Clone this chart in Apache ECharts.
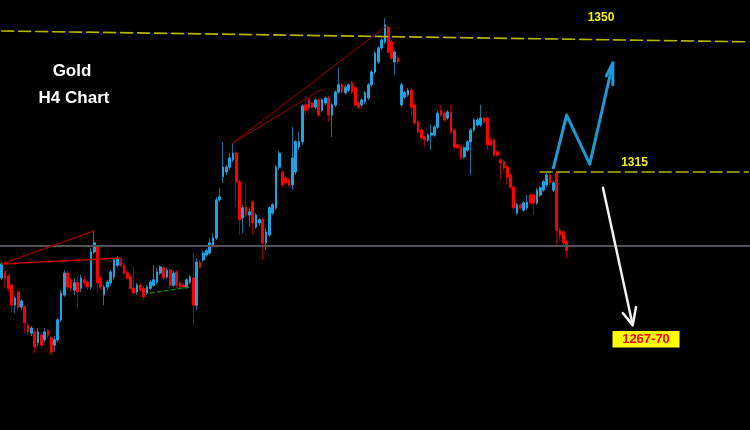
<!DOCTYPE html>
<html><head><meta charset="utf-8">
<script src="https://cdn.jsdelivr.net/npm/echarts@6/dist/echarts.min.js"></script>
<style>html,body{margin:0;padding:0;background:#000}#c{width:750px;height:430px}</style>
</head><body><div id="c"></div>
<script>
// ---- candle values (H4 Gold) ----
const opens = [
1286.9,1288.5,1287.4,1285.0,1279.7,1283.2,1279.2,1279.2,1274.4,1272.3,
1272.6,1269.7,1271.8,1270.5,1272.9,1271.0,1269.1,1270.5,1275.8,1282.4,
1288.2,1286.4,1283.7,1285.8,1284.2,1286.4,1285.8,1284.5,1293.8,1295.1,
1286.9,1282.4,1284.5,1285.6,1287.2,1290.3,1291.7,1290.3,1288.2,1287.2,
1284.2,1283.2,1285.0,1284.2,1282.9,1284.2,1285.0,1285.8,1288.2,1289.6,
1287.2,1289.0,1285.0,1288.5,1285.6,1285.0,1284.5,1285.8,1286.9,1279.7,
1291.1,1291.7,1293.0,1293.5,1295.6,1297.5,1307.6,1313.7,1315.0,1316.3,
1318.2,1320.0,1312.4,1302.8,1305.7,1303.6,1307.0,1300.4,1301.5,1302.3,
1296.2,1298.3,1304.1,1305.5,1316.3,1315.0,1313.4,1312.9,1311.6,1315.0,
1321.6,1323.0,1332.8,1334.1,1333.3,1332.2,1334.1,1331.4,1333.3,1334.6,
1330.1,1332.8,1336.2,1338.1,1336.0,1336.7,1338.6,1337.3,1333.3,1332.8,
1333.6,1334.6,1338.1,1341.5,1344.2,1347.9,1349.5,1353.4,1349.5,1344.2,
1345.2,1332.8,1334.9,1335.4,1336.7,1332.8,1328.3,1326.1,1324.3,1323.5,
1324.8,1324.8,1326.9,1331.4,1330.6,1329.3,1330.9,1326.1,1322.2,1321.6,
1319.0,1320.8,1323.0,1326.1,1327.5,1327.5,1329.3,1329.3,1323.5,1323.5,
1320.3,1318.2,1317.7,1316.3,1314.2,1311.0,1304.1,1306.3,1304.9,1305.5,
1308.9,1308.9,1306.8,1308.9,1310.2,1311.6,1314.2,1310.2,1314.7,1299.6,
1299.1,1296.5];
const closes = [
1290.6,1286.9,1284.2,1279.7,1281.6,1279.2,1280.8,1275.0,1272.6,1273.6,
1268.6,1272.6,1269.1,1272.6,1271.8,1267.3,1270.5,1275.8,1282.9,1288.2,
1284.5,1284.2,1285.6,1283.2,1286.9,1285.6,1284.5,1293.8,1296.2,1285.6,
1284.5,1284.5,1285.8,1288.5,1291.7,1292.2,1290.3,1288.2,1286.9,1284.2,
1282.9,1285.0,1283.7,1281.9,1284.5,1285.8,1286.4,1288.5,1289.8,1286.9,
1289.0,1285.0,1288.2,1285.0,1284.5,1284.5,1286.4,1287.2,1279.7,1291.1,
1289.8,1293.5,1294.1,1296.2,1297.5,1307.6,1308.4,1316.3,1316.3,1318.7,
1320.0,1312.4,1302.3,1305.5,1303.6,1304.4,1301.5,1303.6,1302.3,1296.2,
1299.1,1305.5,1306.3,1316.3,1320.0,1311.6,1312.1,1311.6,1318.7,1323.0,
1323.0,1332.5,1331.4,1332.0,1332.2,1334.1,1330.1,1334.1,1334.6,1330.1,
1332.8,1336.2,1338.1,1336.2,1337.5,1338.1,1336.2,1332.8,1332.2,1334.1,
1336.0,1338.1,1341.5,1346.5,1347.9,1350.0,1354.0,1346.8,1345.2,1346.8,
1344.2,1338.1,1336.0,1336.7,1332.2,1328.0,1325.6,1324.0,1323.5,1324.8,
1325.3,1326.9,1330.6,1330.1,1328.8,1330.9,1325.6,1321.6,1321.4,1318.7,
1321.4,1323.0,1326.1,1328.8,1328.8,1329.3,1328.3,1322.2,1322.2,1319.5,
1319.5,1317.4,1316.1,1313.7,1311.0,1305.5,1306.3,1305.5,1306.8,1307.0,
1306.8,1306.8,1310.2,1310.8,1312.4,1314.2,1312.1,1312.1,1299.6,1298.3,
1296.2,1294.3];
const lows = [
1286.4,1284.2,1283.2,1277.9,1277.6,1278.4,1278.4,1272.3,1271.8,1271.5,
1267.0,1268.9,1268.3,1269.9,1271.0,1266.5,1267.3,1269.9,1275.2,1281.9,
1283.7,1283.2,1282.4,1279.2,1283.2,1284.8,1283.7,1283.7,1293.3,1282.9,
1283.7,1279.7,1283.7,1284.8,1286.4,1289.8,1289.8,1287.7,1286.4,1283.7,
1282.4,1282.4,1283.2,1281.1,1282.4,1283.7,1284.5,1285.3,1287.7,1286.4,
1286.6,1284.2,1284.5,1284.2,1284.0,1284.0,1284.0,1285.3,1274.4,1278.4,
1289.3,1291.1,1292.5,1293.0,1295.1,1297.0,1307.0,1312.1,1314.2,1315.5,
1317.7,1305.7,1298.3,1298.8,1303.1,1300.4,1298.3,1299.9,1300.7,1291.7,
1294.3,1297.8,1303.6,1304.9,1315.5,1311.0,1311.6,1311.0,1310.2,1314.2,
1320.8,1322.2,1330.1,1331.4,1331.7,1331.7,1329.6,1330.9,1332.8,1328.3,
1324.3,1332.2,1335.7,1335.7,1335.4,1336.2,1335.7,1332.2,1331.7,1332.2,
1333.0,1334.1,1337.5,1341.0,1343.6,1347.3,1348.9,1346.3,1344.7,1340.7,
1343.6,1332.2,1334.4,1334.9,1329.6,1327.5,1325.1,1323.5,1321.6,1323.0,
1320.8,1324.3,1326.4,1329.6,1328.3,1328.8,1325.1,1321.1,1320.8,1318.2,
1318.4,1320.3,1314.2,1325.6,1326.9,1326.9,1327.7,1320.8,1321.6,1319.0,
1319.0,1312.9,1315.5,1311.6,1310.5,1304.9,1303.6,1304.9,1304.4,1304.9,
1306.3,1303.6,1306.3,1308.4,1309.7,1311.0,1311.6,1309.7,1295.1,1297.0,
1295.6,1292.2];
const highs = [
1291.1,1289.0,1288.0,1285.6,1282.1,1283.7,1281.3,1279.7,1275.2,1274.2,
1273.1,1273.6,1272.3,1273.6,1273.4,1271.5,1271.5,1276.3,1283.7,1289.0,
1288.8,1286.9,1286.9,1287.4,1287.7,1287.4,1286.4,1294.9,1299.6,1295.6,
1287.4,1285.0,1286.4,1289.0,1292.2,1292.7,1292.2,1290.9,1289.0,1287.7,
1290.1,1285.6,1285.6,1284.8,1285.0,1286.4,1290.3,1289.6,1290.3,1290.1,
1289.6,1289.6,1288.8,1289.0,1286.1,1285.6,1286.9,1287.7,1293.5,1292.2,
1291.7,1294.1,1294.6,1297.5,1298.8,1308.4,1310.8,1323.0,1316.9,1320.0,
1322.7,1320.6,1312.9,1306.3,1312.1,1305.5,1307.6,1304.1,1302.8,1302.8,
1300.2,1306.0,1306.8,1316.9,1320.6,1315.5,1313.9,1313.4,1326.9,1323.5,
1325.6,1333.0,1335.2,1334.6,1333.8,1334.6,1334.6,1334.6,1335.2,1335.2,
1333.3,1336.7,1342.6,1338.6,1338.1,1338.6,1339.1,1337.8,1333.8,1334.6,
1336.5,1338.6,1342.0,1347.1,1348.4,1350.5,1355.8,1354.0,1350.0,1347.3,
1345.8,1338.6,1336.5,1337.3,1337.3,1333.3,1328.8,1326.7,1324.8,1325.3,
1327.5,1327.5,1331.2,1332.8,1331.2,1331.4,1332.8,1326.7,1322.7,1322.2,
1321.9,1323.5,1326.7,1329.3,1329.3,1332.8,1329.8,1329.8,1324.0,1324.0,
1320.8,1318.7,1318.2,1316.9,1314.7,1311.6,1306.8,1306.8,1307.3,1308.9,
1309.4,1309.4,1310.8,1311.3,1312.9,1314.7,1314.7,1312.6,1315.3,1300.2,
1299.6,1297.0];

// ---- levels & annotation paths ([bar index, price]) ----
const pivotLevel = 1295.4;
const level1350 = [[0, 1352.4], [226, 1349.5]];
const level1315 = [[163, 1315.0], [226, 1315.0]];
const trendLeftUpper = [[0, 1290.6], [28, 1299.4]];
const trendLeftFlat = [[0, 1290.6], [36, 1292.2], [36, 1291.1]];
const greenDashed = [[45, 1282.9], [57, 1284.5]];
const trendMidA = [[70, 1322.7], [116, 1353.4]];
const trendMidB = [[70, 1322.7], [97, 1337.0]];
const bluePath = [[167, 1316.1], [171, 1330.1], [178, 1317.1], [185, 1343.9]];
const blueHead = [[183, 1340.5], [185, 1343.9], [185, 1338.1]];
const whitePath = [[182, 1310.8], [191, 1274.4]];
const whiteHead = [[188, 1277.6], [191, 1274.4], [192, 1279.2]];
const labels = { title1: 'Gold', title2: 'H4 Chart', l1350: '1350', l1315: '1315', target: '1267-70' };

const slotCount = 227;
const categories = Array.from({length: slotCount}, (_, i) => 'b' + i);
const wickData = categories.map((_, i) => i < opens.length ? [opens[i], closes[i], lows[i], highs[i]] : '-');
const bodyData = categories.map((_, i) => i < opens.length ?
  [opens[i], closes[i], Math.min(opens[i], closes[i]), Math.max(opens[i], closes[i])] : '-');

function seg(data, color, width, type, z) {
  return { type: 'line', data: data, symbol: 'none', silent: true, animation: false,
    lineStyle: { color: color, width: width, type: type || 'solid', cap: 'round', join: 'round' }, z: z || 5 };
}

const chart = echarts.init(document.getElementById('c'), null, {renderer: 'canvas'});
const boldFont = '"Liberation Sans", Arial, sans-serif';
chart.setOption({
  backgroundColor: '#000000',
  animation: false,
  grid: { left: 0, right: 0, top: 0, bottom: 0 },
  xAxis: { type: 'category', data: categories, boundaryGap: true, show: false },
  yAxis: { type: 'value', min: 1246.6, max: 1360.6, show: false, splitLine: { show: false } },
  series: [
    { type: 'candlestick', data: wickData, barWidth: 2.2, silent: true, z: 2,
      itemStyle: { color: '#17739c', color0: '#9a0000', borderColor: '#17739c', borderColor0: '#9a0000', borderWidth: 1 },
      markLine: { silent: true, symbol: ['none', 'none'], label: { show: false },
        lineStyle: { color: '#505358', width: 2, type: 'solid' }, data: [{ yAxis: pivotLevel }] } },
    { type: 'candlestick', data: bodyData, barWidth: 2.2, silent: true, z: 3,
      itemStyle: { color: '#1ea3e0', color0: '#ff0000', borderColor: '#1ea3e0', borderColor0: '#ff0000', borderWidth: 1 } },
    seg(level1350, '#b4b400', 1.6, [12, 5]),
    seg(level1315, '#b4b400', 1.6, [12, 5]),
    seg(trendLeftUpper, '#a00000', 1.2),
    seg(trendLeftFlat, '#c00000', 1.5),
    seg(greenDashed, '#0a7a0a', 1.5, [4, 3]),
    seg(trendMidA, '#a00000', 1),
    seg(trendMidB, '#a00000', 1),
    seg(bluePath, '#1e9ad8', 3, 'solid', 6),
    seg(blueHead, '#1e9ad8', 3, 'solid', 6),
    seg(whitePath, '#f2f2f2', 2.5, 'solid', 6),
    seg(whiteHead, '#f2f2f2', 2.5, 'solid', 6)
  ],
  graphic: [
    { type: 'text', x: 72, y: 71.5, z: 100, style: { text: labels.title1, fill: '#ffffff', font: 'bold 17px ' + boldFont, align: 'center', verticalAlign: 'middle' } },
    { type: 'text', x: 74, y: 98.5, z: 100, style: { text: labels.title2, fill: '#ffffff', font: 'bold 17px ' + boldFont, align: 'center', verticalAlign: 'middle' } },
    { type: 'text', x: 601, y: 17.5, z: 100, style: { text: labels.l1350, fill: '#f4f400', font: 'bold 12px ' + boldFont, align: 'center', verticalAlign: 'middle' } },
    { type: 'text', x: 634.5, y: 162.5, z: 100, style: { text: labels.l1315, fill: '#f4f400', font: 'bold 12px ' + boldFont, align: 'center', verticalAlign: 'middle' } },
    { type: 'rect', z: 99, shape: { x: 612.5, y: 331, width: 67, height: 16.5 }, style: { fill: '#ffff00' } },
    { type: 'text', x: 646, y: 339.5, z: 100, style: { text: labels.target, fill: '#ff0000', font: 'bold 13px ' + boldFont, align: 'center', verticalAlign: 'middle' } }
  ]
});
</script>
</body></html>
